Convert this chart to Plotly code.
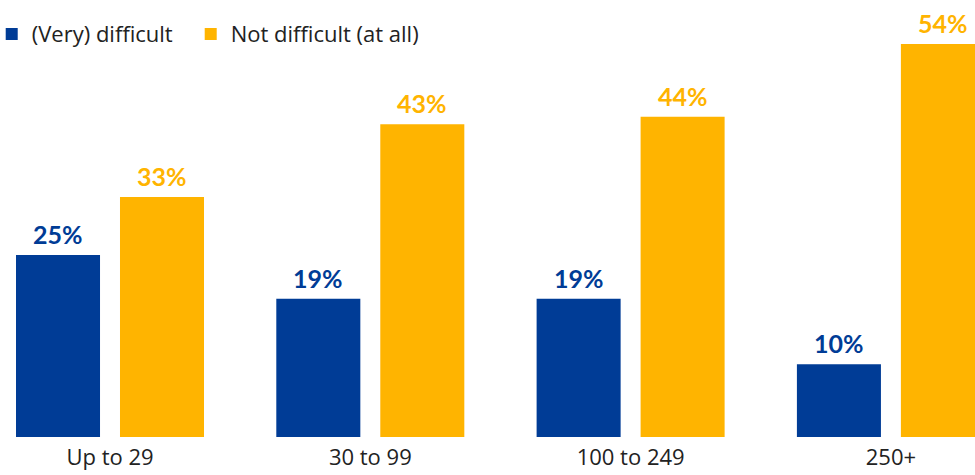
import plotly.graph_objects as go

# Company size bands and survey shares (%)
categories = ["Up to 29", "30 to 99", "100 to 249", "250+"]
series_names = ["(Very) difficult", "Not difficult (at all)"]
very_difficult = [25, 19, 19, 10]
not_difficult = [33, 43, 44, 54]

BLUE = "#003C96"
ORANGE = "#FFB400"
LABEL_FONT = "Lato"
TEXT_FONT = "Open Sans"

fig = go.Figure()
fig.add_trace(go.Bar(name=series_names[0], x=categories, y=very_difficult,
                     marker=dict(color=BLUE, line_width=0), legendwidth=154))
fig.add_trace(go.Bar(name=series_names[1], x=categories, y=not_difficult,
                     marker=dict(color=ORANGE, line_width=0), legendwidth=230))

# Value labels above each bar, shifted to the bar's slot within the group
slot_px = 52
for values, color, shift in [(very_difficult, BLUE, -slot_px), (not_difficult, ORANGE, slot_px)]:
    for cat, v in zip(categories, values):
        fig.add_annotation(x=cat, y=v, xref="x", yref="y", text=f"<b>{v}%</b>",
                           showarrow=False, xshift=shift, yshift=4,
                           xanchor="center", yanchor="bottom",
                           font=dict(family=LABEL_FONT, size=25, color=color, weight=900))

fig.update_layout(
    width=975, height=475,
    margin=dict(l=0, r=0, t=0, b=38, autoexpand=False),
    paper_bgcolor="white", plot_bgcolor="white",
    barmode="group", bargap=0.201, bargroupgap=0.192,
    showlegend=True,
    legend=dict(orientation="h", x=-0.0085, xanchor="left", y=0.922, yanchor="middle",
                font=dict(family=TEXT_FONT, size=22, color="#222222"),
                bgcolor="rgba(0,0,0,0)", itemclick=False, traceorder="normal"),
    xaxis=dict(range=[-0.4226, 3.323], showgrid=False, showline=False, zeroline=False,
               ticks="", ticklabelstandoff=5,
               tickfont=dict(family=TEXT_FONT, size=22, color="#222222")),
    yaxis=dict(range=[0, 60.06], visible=False, showgrid=False, zeroline=False),
)

fig.write_html("out.html")
